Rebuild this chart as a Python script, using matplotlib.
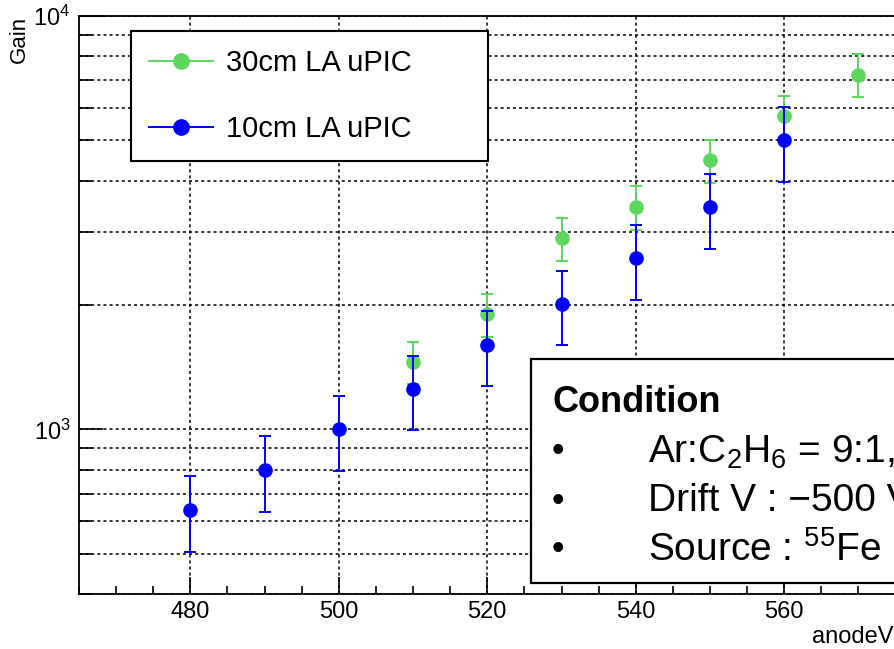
import matplotlib
matplotlib.use("Agg")
import matplotlib.pyplot as plt
from matplotlib.lines import Line2D
from matplotlib.patches import Rectangle
from matplotlib.ticker import LogLocator, MultipleLocator, NullFormatter

plt.rcParams['font.family'] = ['Liberation Sans', 'DejaVu Sans']
plt.rcParams['mathtext.fontset'] = 'custom'
plt.rcParams['mathtext.rm'] = 'Liberation Sans'
plt.rcParams['mathtext.default'] = 'regular'

# 30cm LA uPIC
v30 = [510, 520, 530, 540, 550, 560, 570]
gain30 = [1454, 1903, 2904, 3456, 4481, 5719, 7202]
up30 = [1632, 2131, 3245, 3870, 5009, 6397, 8090]
lo30 = [1290, 1677, 2556, 3042, 3950, 5100, 6362]

# 10cm LA uPIC
v10 = [480, 490, 500, 510, 520, 530, 540, 550, 560]
gain10 = [638, 800, 1000, 1254, 1604, 2012, 2598, 3444, 5016]
up10 = [770, 963, 1204, 1503, 1931, 2422, 3126, 4157, 6040]
lo10 = [505, 632, 793, 999, 1272, 1598, 2061, 2736, 3973]

labels = ['30cm LA uPIC', '10cm LA uPIC']
cond_lines = ['Ar:C$_2$H$_6$ = 9:1, 1 atm', 'Drift V : \u2212500 V', 'Source : $^{55}$Fe']

green = '#5cd65c'
blue = '#0000ff'
W, H = 894, 649


def main():
	fig = plt.figure(figsize=(W / 100, H / 100), dpi=100)
	ax = fig.add_axes([79 / W, 1 - 594 / H, 965 / W, 578 / H])

	ax.errorbar(v30, gain30, yerr=[[g - l for g, l in zip(gain30, lo30)], [u - g for g, u in zip(gain30, up30)]],
		fmt='o', color=green, ms=9.5, elinewidth=1.4, capsize=4, capthick=1.4, zorder=3)
	ax.errorbar(v10, gain10, yerr=[[g - l for g, l in zip(gain10, lo10)], [u - g for g, u in zip(gain10, up10)]],
		fmt='o', color=blue, ms=9.5, elinewidth=1.4, capsize=4, capthick=1.4, zorder=4)

	ax.set_yscale('log')
	ax.set_ylim(400, 1e4)
	ax.set_xlim(465, 595)
	ax.xaxis.set_major_locator(MultipleLocator(20))
	ax.xaxis.set_minor_locator(MultipleLocator(5))
	ax.yaxis.set_major_locator(LogLocator(base=10))
	ax.yaxis.set_minor_locator(LogLocator(base=10, subs=range(2, 10)))
	ax.yaxis.set_minor_formatter(NullFormatter())

	ax.tick_params(which='both', direction='in', top=False, right=False, labelsize=17, width=1.2)
	ax.tick_params(axis='x', which='major', length=12, pad=5)
	ax.tick_params(axis='x', which='minor', length=6)
	ax.tick_params(axis='y', which='major', length=17, pad=6)
	ax.tick_params(axis='y', which='minor', length=9)
	for s in ax.spines.values():
		s.set_linewidth(1.3)

	ax.grid(True, axis='x', which='major', color='black', ls=(0, (2, 2)), lw=1.1)
	ax.grid(True, axis='y', which='both', color='black', ls=(0, (2, 2)), lw=1.1)

	ax.set_ylabel('Gain', loc='top', fontsize=16)
	ax.yaxis.set_label_coords(-49 / 965, 1.0)
	ax.set_xlabel('anodeV [V]', fontsize=17, ha='left')
	ax.xaxis.set_label_coords((812 - 79) / 965, -43 / 578)
	ax.xaxis.label.set_verticalalignment('center')

	handles = [Line2D([], [], color=green, marker='o', ms=11, lw=1.4),
		Line2D([], [], color=blue, marker='o', ms=11, lw=1.4)]
	leg = fig.legend(handles, labels, loc='upper left', mode='expand',
		bbox_to_anchor=(131 / W, 1 - 159 / H, 357 / W, 128 / H), bbox_transform=fig.transFigure,
		borderaxespad=0, fontsize=21, handlelength=2.2, handletextpad=0.45, borderpad=0.62,
		labelspacing=1.3, fancybox=False, framealpha=1)
	leg.get_frame().set_edgecolor('black')
	leg.get_frame().set_linewidth(1.5)

	fig.add_artist(Rectangle((531 / W, 1 - 583 / H), 600 / W, 224 / H, transform=fig.transFigure,
		facecolor='white', edgecolor='black', lw=1.6, zorder=5))
	fig.text(552 / W, 1 - 412 / H, 'Condition', fontsize=26, fontweight='bold', va='baseline', zorder=6)
	for i, line in enumerate(cond_lines):
		y = 1 - (452 + i * 49) / H
		fig.text(558 / W, y, '\u2022', fontsize=26, ha='center', va='center', zorder=6)
		fig.text(648 / W, y, line, fontsize=28, va='center', zorder=6)

	fig.savefig('out.png', dpi=100)


if __name__ == "__main__":
	main()
